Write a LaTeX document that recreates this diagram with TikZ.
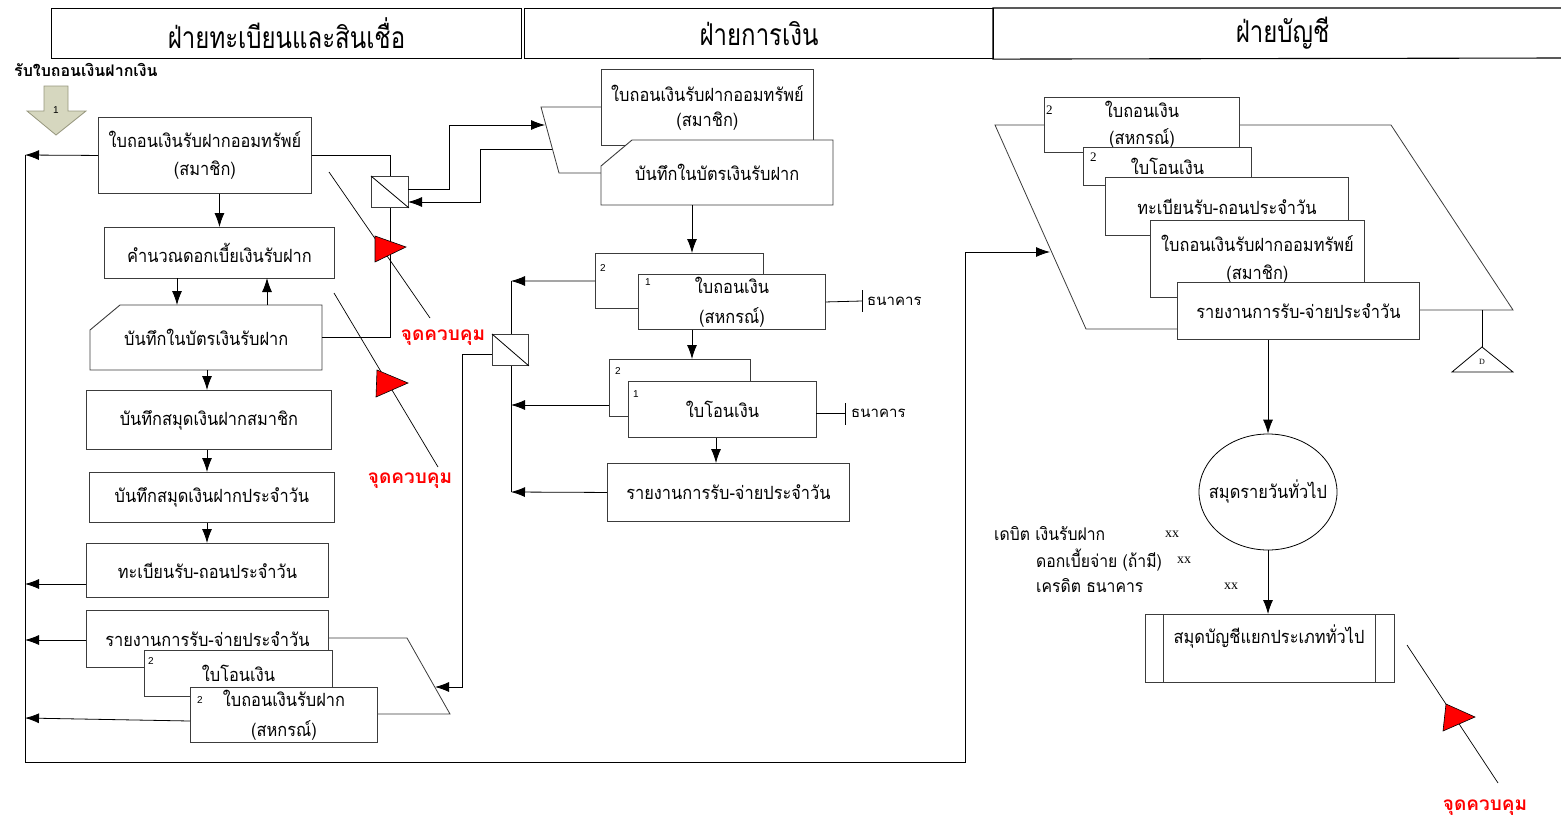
\documentclass[tikz,border=0pt]{standalone}
\usepackage{fontspec}
\usetikzlibrary{arrows.meta,calc,shapes.geometric}
\newfontfamily\thai[Script=Thai]{Loma}
\newfontfamily\thain[Script=Thai,FakeStretch=0.9]{Loma}
\newfontfamily\thaih[Script=Thai,FakeStretch=0.8]{Loma}
\newfontfamily\lsans{Liberation Sans}
\newfontfamily\lserif{Liberation Serif}
\newcommand\tbox{\thain\fontsize{18.2}{28}\selectfont}
\newcommand\thead{\thaih\fontsize{30}{32}\selectfont}
\newcommand\tsmall{\thai\fontsize{15}{18}\selectfont}
\newcommand\tjour{\thain\fontsize{17.5}{20}\selectfont}
\newcommand\tred{\thai\bfseries\fontsize{19}{22}\selectfont}
\definecolor{lineg}{RGB}{60,60,60}
\definecolor{olivefill}{RGB}{214,215,191}
\definecolor{oliveline}{RGB}{150,150,125}
\definecolor{cpred}{RGB}{255,0,0}
\tikzset{
 boxl/.style={draw=lineg, line width=0.9pt},
 box/.style={boxl, fill=white, inner sep=0pt, align=center, font=\tbox, anchor=north west},
 txt/.style={inner sep=0pt, align=center, font=\tbox},
 ln/.style={line width=0.8pt, draw=black},
 arr/.style={ln, -{Latex[length=14pt,width=10pt]}},
 num/.style={inner sep=0pt, font=\lsans\fontsize{10}{11}\selectfont},
 numr/.style={inner sep=0pt, font=\lserif\fontsize{13}{13}\selectfont},
 conn/.style={boxl, fill=white, minimum width=37pt, minimum height=31pt, inner sep=0pt, anchor=north west},
 cpline/.style={line width=0.7pt},
 cptri/.style={draw=black, line width=0.6pt, fill=cpred},
 cplabel/.style={font=\tred, text=cpred, inner sep=0pt},
 hdr/.style={draw=black, line width=1.1pt, minimum height=50pt, inner sep=0pt, anchor=north west, font=\thead},
}
\begin{document}
\begin{tikzpicture}[x=1pt,y=-1pt]
\useasboundingbox (0,0) rectangle (1561,825);

% ---------- headers ----------
\node[hdr, minimum width=470pt] (H1) at (51,8) {ฝ่ายทะเบียนและสินเชื่อ};
\node[hdr, minimum width=469pt] (H2) at (524,8) {ฝ่ายการเงิน};
\node[hdr, draw=none, minimum width=578pt] (H3) at (993,8) {ฝ่ายบัญชี};
\draw[line width=1.1pt] (1561,8) -- (H3.north west) -- (H3.south west) -- (1561,58);

% ---------- start ----------
\node[inner sep=0pt, anchor=west, font=\thai\bfseries\fontsize{16}{18}\selectfont] (start) at (14,70) {รับใบถอนเงินฝากเงิน};
\draw[fill=olivefill, draw=oliveline, line width=0.8pt] (44,86) -- (68,86) -- (68,111) -- (86,111) -- (56,135) -- (27,111) -- (44,111) -- cycle;
\node[num] (one) at (56,110) {1};

% ---------- left merge shape ----------
\draw[boxl, line width=0.8pt] (320,638) -- (407,638) -- (450,714) -- (370,714);

% ---------- left column ----------
\node[box, minimum width=213pt, minimum height=76pt] (A) at (98,117) {ใบถอนเงินรับฝากออมทรัพย์\\(สมาชิก)};
\node[box, minimum width=230pt, minimum height=51pt] (B) at (104,227) {คำนวณดอกเบี้ยเงินรับฝาก};
\draw[boxl, fill=white] (90,330) -- (120,305) -- (322,305) -- (322,370) -- (90,370) -- cycle;
\node[txt, minimum width=232pt, minimum height=65pt, anchor=north west] (C) at (90,305) {บันทึกในบัตรเงินรับฝาก};
\node[box, minimum width=245pt, minimum height=59pt] (D) at (86,390) {บันทึกสมุดเงินฝากสมาชิก};
\node[box, minimum width=245pt, minimum height=50pt] (E) at (89,472) {บันทึกสมุดเงินฝากประจำวัน};
\node[box, minimum width=242pt, minimum height=54pt] (F) at (86,543) {ทะเบียนรับ-ถอนประจำวัน};
\node[box, minimum width=242pt, minimum height=57pt] (G) at (86,610) {รายงานการรับ-จ่ายประจำวัน};
\node[box, minimum width=188pt, minimum height=46pt] (Hd) at (144,650) {ใบโอนเงิน};
\node[num, anchor=west] (Hn) at (148,661) {2};
\node[box, minimum width=187pt, minimum height=55pt, font=\thain\fontsize{18.2}{30}\selectfont] (I) at (190,687) {ใบถอนเงินรับฝาก\\(สหกรณ์)};
\node[num, anchor=west] (In) at (197,700) {2};

\draw[arr] (A.south -| B.north) -- (B.north);
\draw[arr] (177,278) -- (177,305);
\draw[arr] (267,305) -- (267,278);
\draw[arr] (207,370) -- (D.north -| 207,0);
\draw[arr] (D.south -| 207,0) -- (E.north -| 207,0);
\draw[arr] (E.south -| 207,0) -- (F.north -| 207,0);

% ---------- left return line ----------
\coordinate (Lt) at (25,155);
\coordinate (Lb) at (25,762);
\coordinate (Rb) at (965,762);
\coordinate (Rt) at (965,252);
\coordinate (P3in) at (1050,252);
\draw[ln] (Lt) -- (Lb) -- (Rb) -- (Rt);
\draw[arr] (Rt) -- (P3in);
\draw[arr] (A.west) -- (Lt);
\draw[arr] (86,584) -- (25,584);
\draw[arr] (86,640) -- (25,640);
\draw[arr] (190,721) -- (25,718);

% ---------- connector square 1 ----------
\node[conn] (S1) at (371,176) {};
\draw[ln] (S1.north west) -- (S1.south east);
\draw[ln] (A.east) -- (S1.north |- A.east) -- (S1.north);
\draw[ln] (S1.south) -- (S1.south |- C.east) -- (C.east);

% ---------- middle merge shape ----------
\draw[boxl, line width=0.8pt] (541,107) -- (650,107) -- (650,173) -- (559,173) -- cycle;
\coordinate (Mi) at (545,125);
\coordinate (Mo) at (552,149);
\draw[arr] (408,189) -- (449,189) -- (449,125) -- (Mi);
\draw[arr] (Mo) -- (480,149) -- (480,202) -- (408,202);

% ---------- middle column ----------
\node[box, minimum width=212pt, minimum height=76pt, font=\thain\fontsize{18.2}{25}\selectfont] (M1) at (601,69) {ใบถอนเงินรับฝากออมทรัพย์\\(สมาชิก)};
\draw[boxl, fill=white] (601,166) -- (632,140) -- (833,140) -- (833,205) -- (601,205) -- cycle;
\node[txt, minimum width=232pt, minimum height=65pt, anchor=north west] (M2) at (601,140) {บันทึกในบัตรเงินรับฝาก};

\node[box, minimum width=168pt, minimum height=55pt] (M3b) at (595,253) {};
\node[num, anchor=west] (M3bn) at (600,268) {2};
\node[box, minimum width=187pt, minimum height=55pt, font=\thain\fontsize{18.2}{30}\selectfont] (M3f) at (638,274) {ใบถอนเงิน\\(สหกรณ์)};
\node[num, anchor=west] (M3fn) at (645,282) {1};

\node[box, minimum width=141pt, minimum height=57pt] (M4b) at (609,359) {};
\node[num, anchor=west] (M4bn) at (615,371) {2};
\node[box, minimum width=188pt, minimum height=56pt] (M4f) at (628,381) {ใบโอนเงิน};
\node[num, anchor=west] (M4fn) at (633,394) {1};

\node[box, minimum width=242pt, minimum height=58pt] (M5) at (607,463) {รายงานการรับ-จ่ายประจำวัน};

\draw[arr] (M2.south -| 692,0) -- (M3b.north -| 692,0);
\draw[arr] (M3f.south -| 692,0) -- (M4b.north -| 692,0);
\draw[arr] (M4f.south -| 716,0) -- (M5.north -| 716,0);

% bank
\coordinate (bk1) at (862,301);
\draw[ln] (M3f.east) -- (bk1);
\draw[ln] (862,290) -- (862,312);
\node[inner sep=0pt, anchor=west, font=\tsmall] (bank1) at (867,301) {ธนาคาร};
\coordinate (bk2) at (845,413);
\draw[ln] (816,413) -- (bk2);
\draw[ln] (845,403) -- (845,425);
\node[inner sep=0pt, anchor=west, font=\tsmall] (bank2) at (851,413) {ธนาคาร};

% middle collector
\coordinate (Vt) at (511,281);
\coordinate (Vb) at (511,492);
\draw[ln] (Vt) -- (Vb);
\draw[arr] (M3b.west) -- (Vt);
\draw[arr] (609,405) -- (511,405);
\draw[arr] (M5.west) -- (Vb);
\node[conn, minimum width=36pt] (S2) at (492,334) {};
\draw[ln] (S2.north west) -- (S2.south east);
\draw[arr] (S2.west |- 0,354) -- (462,354) -- (462,687) -- (435,687);

% ---------- right column ----------
\draw[boxl, line width=0.8pt] (995,125) -- (1391,125) -- (1513,310) -- (1300,310) -- (1300,329) -- (1086,329) -- cycle;
\node[box, minimum width=195pt, minimum height=55pt, font=\thain\fontsize{18.2}{27}\selectfont] (R1) at (1044,97) {ใบถอนเงิน\\(สหกรณ์)};
\node[numr, anchor=west] (R1n) at (1046,110) {2};
\node[box, minimum width=168pt, minimum height=38pt] (R2) at (1083,147) {ใบโอนเงิน};
\node[numr, anchor=west] (R2n) at (1090,157) {2};
\node[box, minimum width=243pt, minimum height=58pt] (R3) at (1105,177) {ทะเบียนรับ-ถอนประจำวัน};
\node[box, minimum width=214pt, minimum height=77pt, font=\thain\fontsize{18.2}{28}\selectfont] (R4) at (1150,220) {ใบถอนเงินรับฝากออมทรัพย์\\(สมาชิก)};
\node[box, minimum width=242pt, minimum height=57pt] (R5) at (1177,282) {รายงานการรับ-จ่ายประจำวัน};

\coordinate (Dtop) at (1482,310);
\coordinate (Dap) at (1482,347);
\draw[ln] (Dap) -- (1513,372) -- (1452,372) -- cycle;
\node[inner sep=0pt, font=\lserif\fontsize{8}{9}\selectfont] (Dlab) at (1482,362) {D};
\draw[ln] (Dtop) -- (Dap);

\node[draw=black, line width=0.8pt, ellipse, minimum width=138pt, minimum height=116pt, inner sep=0pt] (J) at (1268,492) {};
\node[txt] (Jt) at (J.center) {สมุดรายวันทั่วไป};
\draw[arr] (R5.south -| J.north) -- (J.north);
\node[box, minimum width=249pt, minimum height=68pt] (K) at (1145,614) {};
\draw[boxl] (1163,614) -- (1163,682);
\draw[boxl] (1375,614) -- (1375,682);
\node[txt] (Kt) at (1269,637) {สมุดบัญชีแยกประเภททั่วไป};
\draw[arr] (J.south) -- (K.north -| J.south);

% journal entry
\node[inner sep=0pt, anchor=west, font=\tjour] (j1) at (994,534) {เดบิต เงินรับฝาก};
\node[inner sep=0pt, anchor=west, font=\lserif\fontsize{14}{15}\selectfont] (j1x) at (1165,534) {xx};
\node[inner sep=0pt, anchor=west, font=\tjour] (j2) at (1036,560) {ดอกเบี้ยจ่าย (ถ้ามี)};
\node[inner sep=0pt, anchor=west, font=\lserif\fontsize{14}{15}\selectfont] (j2x) at (1177,560) {xx};
\node[inner sep=0pt, anchor=west, font=\tjour] (j3) at (1036,586) {เครดิต ธนาคาร};
\node[inner sep=0pt, anchor=west, font=\lserif\fontsize{14}{15}\selectfont] (j3x) at (1224,586) {xx};

% ---------- control points ----------
\draw[cpline] (329,172) -- (430,318);
\draw[cptri] (375,236) -- (406,247) -- (375,262) -- cycle;
\node[cplabel] (cp1) at (443,338) {จุดควบคุม};

\draw[cpline] (334,293) -- (438,467);
\draw[cptri] (377,370) -- (408,383) -- (376,397) -- cycle;
\node[cplabel] (cp2) at (410,481) {จุดควบคุม};

\draw[cpline] (1407,645) -- (1498,783);
\draw[cptri] (1446,704) -- (1475,717) -- (1443,731) -- cycle;
\node[cplabel] (cp3) at (1485,808) {จุดควบคุม};

\end{tikzpicture}
\end{document}
